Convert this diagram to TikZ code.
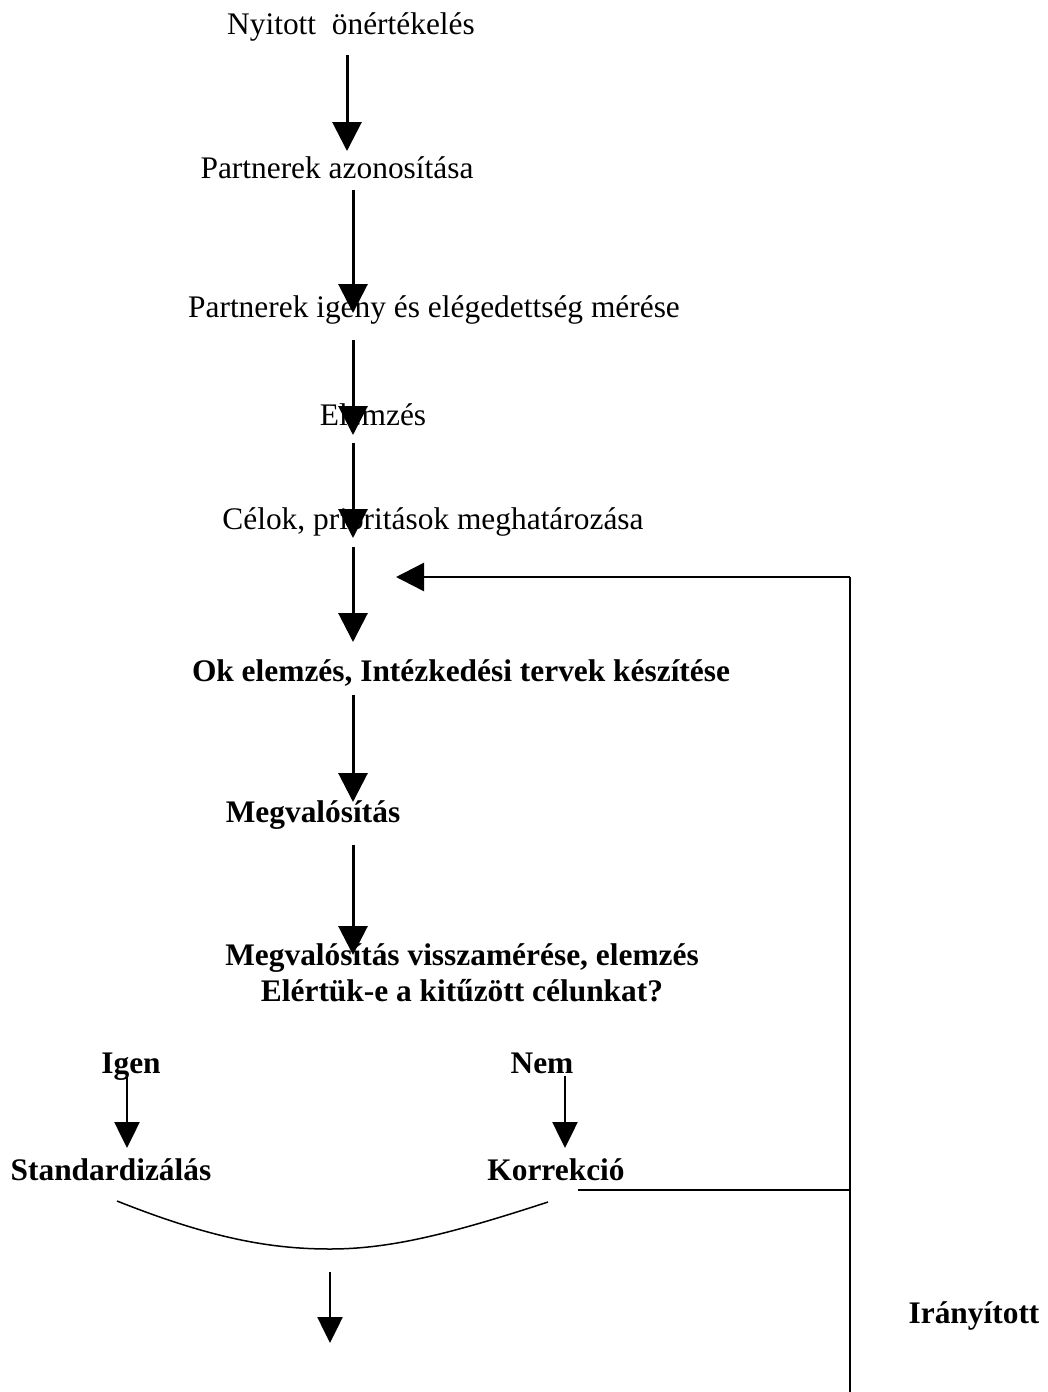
\documentclass[tikz,border=0pt]{standalone}
\usepackage{fontspec}
\setmainfont{Liberation Serif}
\usetikzlibrary{arrows.meta}
\begin{document}
\begin{tikzpicture}[x=1pt,y=-1pt,
  lbl/.style={inner sep=0pt,anchor=center,font=\fontsize{31.4}{36}\selectfont},
  blbl/.style={lbl,font=\fontsize{31.4}{36}\selectfont\bfseries},
  arr/.style={line width=3pt,-{Triangle[width=29pt,length=29pt]}},
  sarr/.style={line width=2.5pt,-{Triangle[width=25pt,length=26pt]}},
  thin/.style={line width=2pt},
  curve/.style={line width=1.5pt}]
\useasboundingbox (0,0) rectangle (1047,1392);
% texts
\node[lbl] (n1) at (351,27) {Nyitott\ \ önértékelés};
\node[lbl] (n2) at (337,168) {Partnerek azonosítása};
\node[lbl] (n3) at (434,310) {Partnerek igény és elégedettség mérése};
\node[lbl] (n4) at (373,415) {Elemzés};
\node[lbl] (n5) at (433,522) {Célok, prioritások meghatározása};
\node[blbl] (n6) at (461,673) {Ok elemzés, Intézkedési tervek készítése};
\node[blbl] (n7) at (313,815) {Megvalósítás};
\node[blbl,align=center] (n8) at (462,973) {Megvalósítás visszamérése, elemzés\\Elértük-e a kitűzött célunkat?};
\node[blbl,anchor=base] (igen) at (131,1073) {Igen};
\node[blbl,anchor=base] (nem) at (542,1073) {Nem};
\node[blbl] (std) at (111,1170) {Standardizálás};
\node[blbl] (korr) at (556,1170) {Korrekció};
\node[blbl] (iran) at (974,1316) {Irányított};
% arrow coordinates
\coordinate (a1s) at (347,55);  \coordinate (a1e) at (347,151);
\coordinate (a2s) at (353,190); \coordinate (a2e) at (353,313);
\coordinate (a3s) at (353,340); \coordinate (a3e) at (353,435);
\coordinate (a4s) at (353,443); \coordinate (a4e) at (353,538);
\coordinate (a5s) at (353,547); \coordinate (a5e) at (353,642);
\coordinate (a6s) at (353,695); \coordinate (a6e) at (353,802);
\coordinate (a7s) at (353,845); \coordinate (a7e) at (353,955);
\coordinate (igs) at (127,1076); \coordinate (ige) at (127,1148);
\coordinate (nms) at (565,1076); \coordinate (nme) at (565,1148);
\coordinate (fbtop) at (850,577); \coordinate (fbtip) at (396,577);
\coordinate (fbbot) at (850,1392);
\coordinate (korrs) at (578,1190); \coordinate (korre) at (850,1190);
\coordinate (cl) at (117,1201); \coordinate (cm) at (330,1249); \coordinate (cr) at (548,1202);
\coordinate (bas) at (330,1272); \coordinate (bae) at (330,1343);
% arrows
\draw[arr] (a1s) -- (a1e);
\draw[arr] (a2s) -- (a2e);
\draw[arr] (a3s) -- (a3e);
\draw[arr] (a4s) -- (a4e);
\draw[arr] (a5s) -- (a5e);
\draw[arr] (a6s) -- (a6e);
\draw[arr] (a7s) -- (a7e);
\draw[sarr] (igs) -- (ige);
\draw[sarr] (nms) -- (nme);
\draw[thin] (fbbot) -- (fbtop);
\draw[line width=2.5pt,-{Triangle[width=28pt,length=28pt]}] (fbtop) -- (fbtip);
\draw[thin] (korrs) -- (korre);
\draw[curve] (cl) .. controls (210,1238) and (270,1249) .. (cm) .. controls (390,1249) and (450,1234) .. (cr);
\draw[sarr] (bas) -- (bae);
\end{tikzpicture}
\end{document}
